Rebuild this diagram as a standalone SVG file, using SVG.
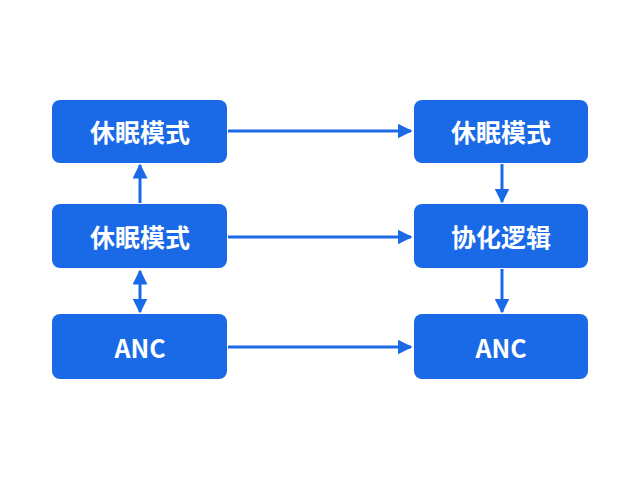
<svg xmlns="http://www.w3.org/2000/svg" width="640" height="480" viewBox="0 0 640 480">
<style>
.b{fill:#1a6ae8}
.t{fill:#fff;font-family:"Noto Sans CJK SC","Noto Sans",sans-serif;font-weight:bold;font-size:25px;text-anchor:middle;dominant-baseline:central}
.c{stroke:#1a6ae8;stroke-width:3;fill:none}
</style>
<defs><marker id="a" viewBox="0 0 10 10" refX="9" refY="5" markerWidth="5" markerHeight="5" orient="auto-start-reverse"><path d="M0,0L10,5L0,10z" fill="#1a6ae8"/></marker></defs>
<rect width="640" height="480" fill="#fff"/>
<g id="L1"><rect class="b" x="52" y="100" width="175" height="63" rx="8"/><text class="t" x="140" y="131">休眠模式</text></g>
<g id="L2"><rect class="b" x="52" y="204" width="175" height="64" rx="8"/><text class="t" x="140" y="236">休眠模式</text></g>
<g id="L3"><rect class="b" x="52" y="314" width="175" height="65" rx="8"/><text class="t" x="140" y="347">ANC</text></g>
<g id="R1"><rect class="b" x="414" y="100" width="174" height="63" rx="8"/><text class="t" x="501" y="131">休眠模式</text></g>
<g id="R2"><rect class="b" x="414" y="204" width="174" height="64" rx="8"/><text class="t" x="501" y="236">协化逻辑</text></g>
<g id="R3"><rect class="b" x="414" y="314" width="174" height="65" rx="8"/><text class="t" x="501" y="347">ANC</text></g>
<g id="connectors">
<path class="c" d="M228,131H411" marker-end="url(#a)"/>
<path class="c" d="M228,237H411" marker-end="url(#a)"/>
<path class="c" d="M228,347H411" marker-end="url(#a)"/>
<path class="c" d="M140,203V165" marker-end="url(#a)"/>
<path class="c" d="M140,271V312" marker-start="url(#a)" marker-end="url(#a)"/>
<path class="c" d="M502,164V202" marker-end="url(#a)"/>
<path class="c" d="M502,269V312" marker-end="url(#a)"/>
</g>
</svg>
